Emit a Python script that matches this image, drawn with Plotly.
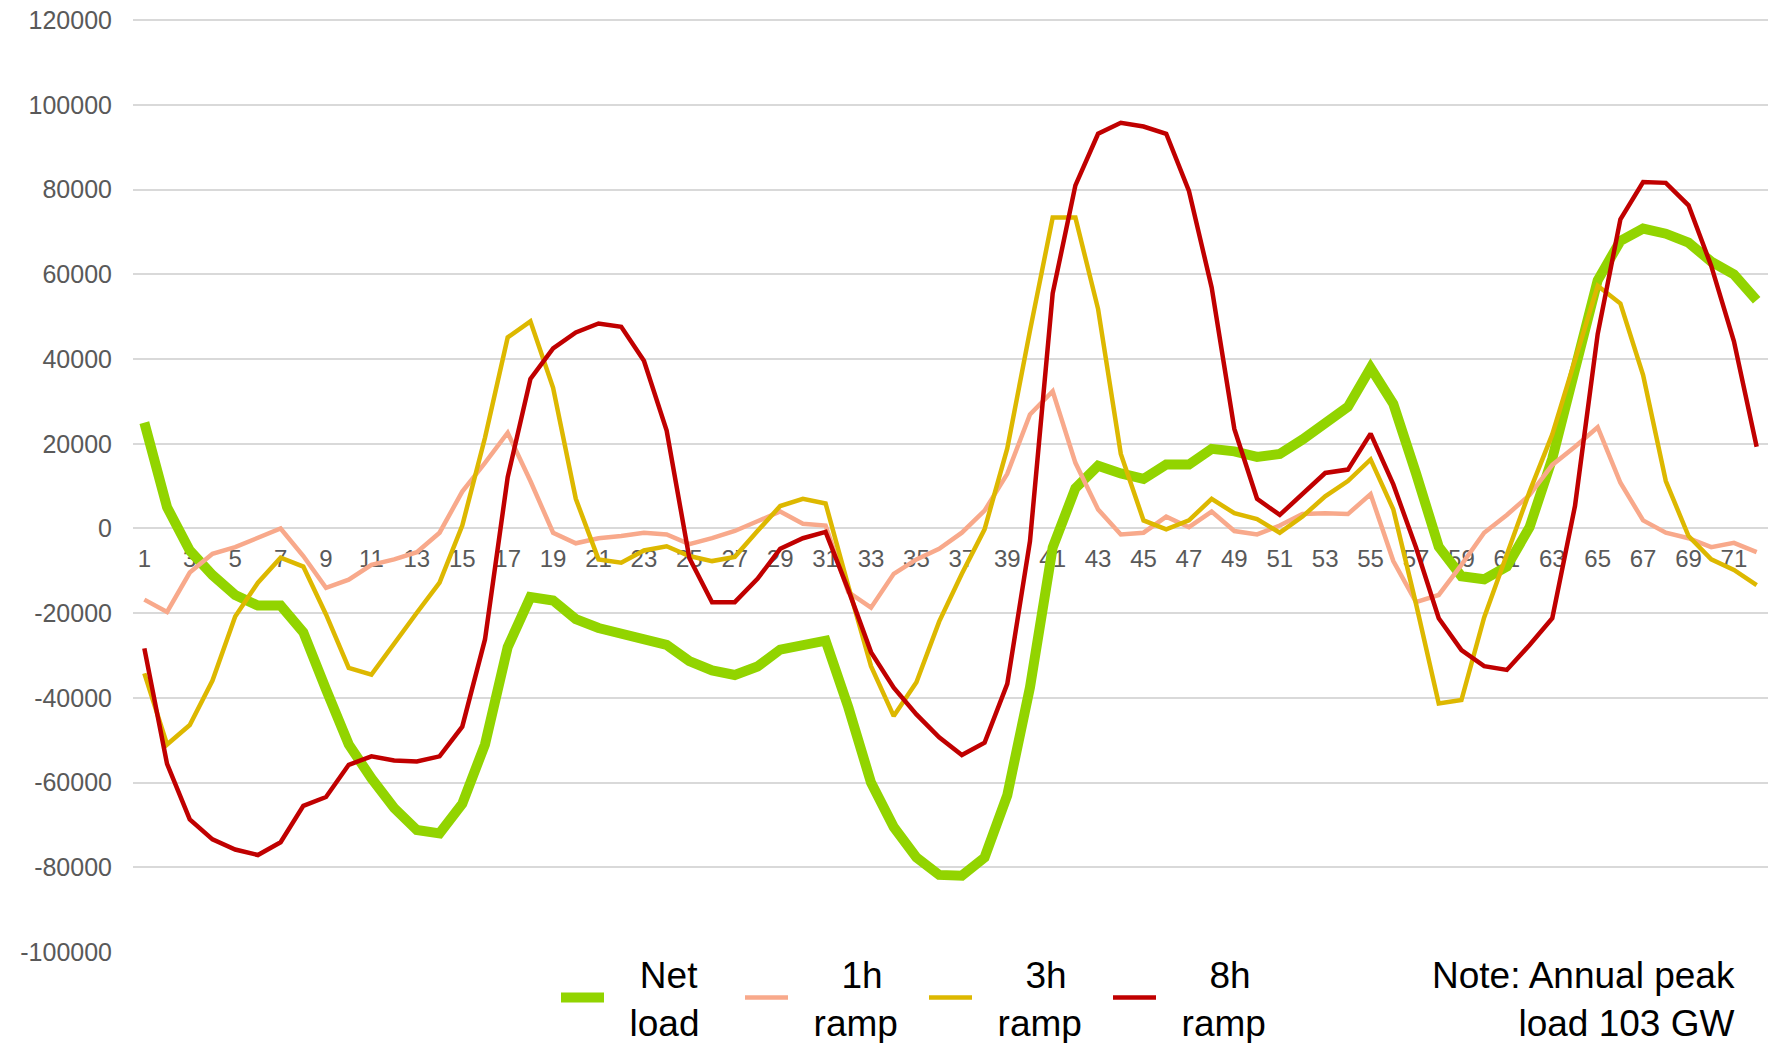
import plotly.graph_objects as go

hours = list(range(1, 73))

net_load = [25000, 5000, -5200, -11000, -15700, -18200, -18200, -24500, -38000, -51000,
            -59000, -66000, -71200, -72000, -65000, -51000, -28000, -16200, -17000, -21400,
            -23500, -24800, -25800, -27500, -31300, -33500, -34600, -32600, -28600, -27500,
            -26500, -42200, -60000, -70500, -77700, -81800, -82000, -77700, -63000, -37500,
            -4500, 9500, 14800, 13000, 11700, 15100, 15100, 18800, 18200, 16900,
            17600, 21000, 25200, 28700, 37900, 29400, 13000, -4300, -11300, -12000,
            -9000, 300, 16500, 36500, 58600, 67900, 70800, 69600, 67500, 63000,
            60000, 53900]

ramp_1h = [-16800, -19700, -10400, -6000, -4400, -2300, 0, -6500, -14000, -12100,
           -8600, -7300, -5600, -1000, 8700, 15500, 22600, 11200, -1000, -3500,
           -2300, -1800, -1000, -1400, -3700, -2300, -600, 1700, 4000, 1100,
           700, -15000, -18700, -10700, -7300, -4800, -1000, 4200, 12900, 26900,
           32400, 15500, 4500, -1400, -1000, 2800, 300, 4000, -600, -1400,
           700, 3400, 3600, 3400, 8100, -7700, -17400, -15700, -8600, -1000,
           3200, 7900, 15000, 19300, 23900, 10800, 1900, -1000, -2300, -4400,
           -3400, -5600]

ramp_3h = [-34200, -51000, -46400, -35900, -20800, -12800, -6900, -9000, -20300, -32900,
           -34500, -27100, -19900, -12800, 700, 21400, 45100, 48900, 33200, 7000,
           -7300, -8100, -5200, -4200, -6500, -7700, -6700, -600, 5300, 7000,
           5900, -13600, -32500, -44300, -36300, -22000, -10700, -200, 18900, 46700,
           73400, 73400, 51800, 17600, 1900, -200, 1900, 7000, 3600, 2200,
           -1000, 2800, 7600, 11200, 16300, 4500, -17800, -41300, -40500, -21000,
           -6500, 8700, 22200, 40000, 57300, 53100, 36200, 11200, -1800, -7300,
           -9800, -13400]

ramp_8h = [-28300, -55600, -68700, -73400, -75800, -77100, -74100, -65500, -63400, -55800,
           -53800, -54800, -55000, -53800, -46800, -26200, 12100, 35300, 42500, 46300,
           48400, 47600, 39600, 23100, -7000, -17400, -17400, -11900, -4800, -2300,
           -800, -14500, -29200, -37600, -43900, -49300, -53500, -50600, -36700, -3000,
           55500, 81000, 93200, 95800, 94900, 93200, 79700, 56900, 23500, 7000,
           3200, 8300, 13100, 13900, 22400, 10400, -4500, -21200, -28700, -32500,
           -33400, -27500, -21200, 5300, 45900, 73000, 81800, 81600, 76300, 62000,
           44200, 19300]

NB = "\u00a0"
series_names = [
    NB * 3 + "Net<br>" + NB * 2 + "load",
    NB * 4 + "\u2009" + "1h<br>" + NB * 2 + "ramp",
    NB * 4 + "\u2009" + "3h<br>" + NB * 2 + "ramp",
    NB * 4 + "\u2009" + "8h<br>" + NB * 2 + "ramp",
]
series_values = [net_load, ramp_1h, ramp_3h, ramp_8h]
series_colors = ["#92D400", "#F8A98B", "#DDB800", "#C00000"]
series_widths = [10, 4.5, 4.5, 4.5]

tick_vals = list(range(1, 72, 2))
tick_text = [str(v) for v in tick_vals]
y_ticks = list(range(-100000, 120001, 20000))

FONT = "Arial, Liberation Sans, sans-serif"

fig = go.Figure()
for name, vals, col, w in zip(series_names, series_values, series_colors, series_widths):
    fig.add_trace(go.Scatter(
        x=hours, y=vals, mode="lines", name=name,
        line=dict(color=col, width=w, shape="linear"),
        hoverinfo="skip",
    ))

W, H = 1775, 1043
ml, mr, mt, mb = 133, 7, 16, 91
plot_w = W - ml - mr
plot_h = H - mt - mb
plot_bottom = H - mb
Y_MIN, Y_MAX = -100000, 121000


def px_x(page_x):
    return (page_x - ml) / plot_w


def px_y(page_y):
    return (plot_bottom - page_y) / plot_h


fig.update_layout(
    width=W, height=H,
    margin=dict(l=ml, r=mr, t=mt, b=mb, autoexpand=False),
    paper_bgcolor="white", plot_bgcolor="white",
    font=dict(family=FONT, color="#595959"),
    showlegend=True,
    hovermode=False,
    legend=dict(
        orientation="h",
        x=px_x(556), xanchor="left",
        y=px_y(998), yanchor="middle",
        font=dict(family=FONT, size=37, color="#000000"),
        entrywidth=126, entrywidthmode="pixels",
        itemwidth=43,
        bgcolor="rgba(0,0,0,0)",
        valign="middle",
    ),
    xaxis=dict(
        range=[0.5, 72.5],
        tickmode="array", tickvals=tick_vals, ticktext=tick_text,
        showgrid=False, zeroline=False, showline=False,
        ticks="", tickfont=dict(family=FONT, size=24, color="#595959"),
        anchor="free", position=(0 - Y_MIN) / (Y_MAX - Y_MIN),
        layer="below traces",
        ticklabelstandoff=14,
    ),
    yaxis=dict(
        range=[Y_MIN, Y_MAX],
        tickmode="array", tickvals=y_ticks, ticktext=[str(v) for v in y_ticks],
        showgrid=True, gridcolor="#D9D9D9", gridwidth=2,
        zeroline=False, showline=False, ticks="",
        tickfont=dict(family=FONT, size=25, color="#595959"),
        ticklabelstandoff=20,
        ticklabeloverflow="allow",
    ),
)

fig.add_annotation(
    xref="paper", yref="paper",
    x=px_x(1737), y=px_y(999),
    xanchor="right", yanchor="middle", align="right",
    text="Note: Annual peak<br>load 103 GW", showarrow=False,
    font=dict(family=FONT, size=37, color="#000000"),
)

fig.write_html(
    "out.html",
    config={"displayModeBar": False},
    post_script="document.body.style.margin='0';document.body.style.overflow='hidden';",
)
